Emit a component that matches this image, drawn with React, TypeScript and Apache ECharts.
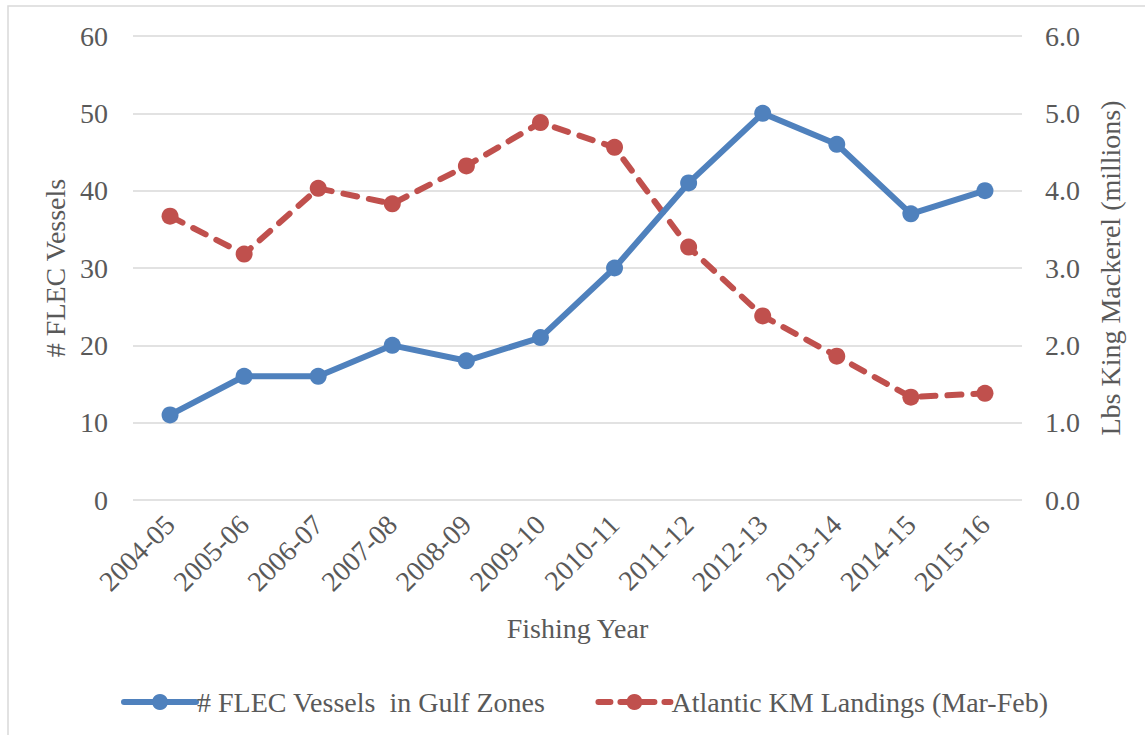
import React, { useEffect, useRef } from "react";
import * as echarts from "echarts";

const categories = [
  "2004-05", "2005-06", "2006-07", "2007-08", "2008-09", "2009-10",
  "2010-11", "2011-12", "2012-13", "2013-14", "2014-15", "2015-16",
];
const flecVessels = [11, 16, 16, 20, 18, 21, 30, 41, 50, 46, 37, 40];
const kmLandings = [3.67, 3.18, 4.03, 3.83, 4.32, 4.88, 4.56, 3.27, 2.38, 1.86, 1.33, 1.38];
const leftTicks = { min: 0, max: 60, interval: 10 };
const rightTicks = { min: 0, max: 6, interval: 1 };
const seriesNames = ["# FLEC Vessels  in Gulf Zones", "Atlantic KM Landings (Mar-Feb)"];

const FONT = "'Liberation Serif', 'Times New Roman', serif";
const TEXT = "#595959";
const BLUE = "#4F81BD";
const RED = "#C0504D";
const FS = 28;

export default function App() {
  const ref = useRef<HTMLDivElement>(null);
  useEffect(() => {
    if (!ref.current) return;
    const chart = echarts.init(ref.current, null, { renderer: "svg" });
    chart.setOption({
      animation: false,
      backgroundColor: "#ffffff",
      textStyle: { fontFamily: FONT, color: TEXT },
      graphic: [
        {
          type: "rect",
          shape: { x: 8, y: 6, width: 1150, height: 740 },
          style: { fill: "none", stroke: "#D9D9D9", lineWidth: 1.5 },
          silent: true,
        },
      ],
      grid: { left: 133, right: 123, top: 36, bottom: 235, containLabel: false },
      legend: {
        left: 116,
        top: 683,
        itemWidth: 72,
        itemHeight: 20,
        itemGap: 50,
        textStyle: { fontFamily: FONT, fontSize: FS, color: TEXT, padding: [0, 0, 0, -4] },
        data: [
          { name: seriesNames[0], lineStyle: { width: 6 } },
          { name: seriesNames[1], lineStyle: { width: 6, type: [12, 10] } },
        ],
      },
      xAxis: {
        type: "category",
        data: categories,
        boundaryGap: true,
        axisLine: { show: false },
        axisTick: { show: false },
        axisLabel: {
          rotate: 45,
          margin: 20,
          interval: 0,
          fontFamily: FONT,
          fontSize: FS,
          color: TEXT,
        },
        name: "Fishing Year",
        nameLocation: "middle",
        nameGap: 114,
        nameTextStyle: { fontFamily: FONT, fontSize: FS, color: TEXT },
      },
      yAxis: [
        {
          type: "value",
          min: leftTicks.min,
          max: leftTicks.max,
          interval: leftTicks.interval,
          axisLine: { show: false },
          axisTick: { show: false },
          splitLine: { lineStyle: { color: "#D9D9D9", width: 1.5 } },
          axisLabel: { margin: 25, fontFamily: FONT, fontSize: FS, color: TEXT },
          name: "# FLEC Vessels",
          nameLocation: "middle",
          nameRotate: 90,
          nameGap: 62,
          nameTextStyle: { fontFamily: FONT, fontSize: FS, color: TEXT },
        },
        {
          type: "value",
          position: "right",
          min: rightTicks.min,
          max: rightTicks.max,
          interval: rightTicks.interval,
          axisLine: { show: false },
          axisTick: { show: false },
          splitLine: { show: false },
          axisLabel: {
            margin: 23,
            fontFamily: FONT,
            fontSize: FS,
            color: TEXT,
            formatter: (v: number) => v.toFixed(1),
          },
          name: "Lbs King Mackerel (millions)",
          nameLocation: "middle",
          nameRotate: 90,
          nameGap: 74,
          nameTextStyle: { fontFamily: FONT, fontSize: FS, color: TEXT },
        },
      ],
      series: [
        {
          name: seriesNames[0],
          type: "line",
          data: flecVessels,
          yAxisIndex: 0,
          symbol: "circle",
          symbolSize: 17,
          itemStyle: { color: BLUE },
          lineStyle: { color: BLUE, width: 6, cap: "round", join: "round" },
          z: 4,
        },
        {
          name: seriesNames[1],
          type: "line",
          data: kmLandings,
          yAxisIndex: 1,
          symbol: "circle",
          symbolSize: 17,
          itemStyle: { color: RED },
          lineStyle: { color: RED, width: 6, type: [14, 12], cap: "round", join: "round" },
          z: 3,
        },
      ],
    });
    return () => chart.dispose();
  }, []);
  return (
    <div
      ref={ref}
      style={{ position: "absolute", left: 0, top: 0, width: 1145, height: 735 }}
    />
  );
}
